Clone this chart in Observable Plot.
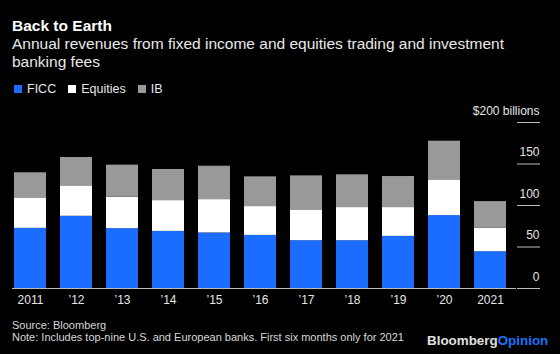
<!DOCTYPE html>
<html>
<head>
<meta charset="utf-8">
<script src="https://cdn.jsdelivr.net/npm/d3@7"></script>
<script src="https://cdn.jsdelivr.net/npm/@observablehq/plot@0.6"></script>
<style>
  html, body { margin: 0; padding: 0; background: #000; }
  body { width: 560px; height: 354px; position: relative; overflow: hidden;
         font-family: "Liberation Sans", Arial, Helvetica, sans-serif; color: #fff; }
  .abs { position: absolute; white-space: nowrap; }
  #title { left: 12px; top: 17px; font-size: 15.5px; line-height: 18px; font-weight: bold; color: #fff; }
  #subtitle { left: 12px; top: 35px; width: 520px; white-space: normal; font-size: 15.5px; line-height: 18px; color: #e8e8e8; }
  #legend { left: 14px; top: 82px; font-size: 12.5px; line-height: 14px; color: #e8e8e8; display: flex; }
  #legend .item { display: flex; align-items: baseline; margin-right: 12px; }
  #legend .sw { display: inline-block; width: 8px; height: 8px; margin-right: 5px; }
  #chart { position: absolute; left: 0; top: 100px; }
  #source { left: 12px; top: 318.5px; font-size: 11px; line-height: 12px; color: #d8d8d8; }
  #note { left: 12px; top: 330.5px; font-size: 11px; line-height: 12px; color: #d8d8d8; }
  #logo { left: 427px; top: 333px; font-size: 13.4px; line-height: 15px; font-weight: bold; color: #e0e0e0; }
  #logo span { color: #1a72ff; }
</style>
</head>
<body>
<div id="title" class="abs">Back to Earth</div>
<div id="subtitle" class="abs">Annual revenues from fixed income and equities trading and investment banking fees</div>
<div id="legend" class="abs"></div>
<div id="chart"></div>
<div id="source" class="abs">Source: Bloomberg</div>
<div id="note" class="abs">Note: Includes top-nine U.S. and European banks. First six months only for 2021</div>
<div id="logo" class="abs">Bloomberg<span>Opinion</span></div>
<script>
// ---- data ----
const years = [2011, 2012, 2013, 2014, 2015, 2016, 2017, 2018, 2019, 2020, 2021];
const yearLabels = ["2011", "\u201912", "\u201913", "\u201914", "\u201915", "\u201916", "\u201917", "\u201918", "\u201919", "\u201920", "2021"];
const series = ["FICC", "Equities", "IB"];
const seriesColors = ["#1a6dff", "#ffffff", "#999999"];
const ficc     = [72.5, 87.0, 72.1, 68.8, 66.9, 64.0, 57.6, 57.6, 62.8, 87.8, 44.3];
const equities = [36.7, 36.7, 37.8, 37.1, 40.2, 34.7, 37.1, 39.9, 34.7, 43.1, 28.2];
const ib       = [30.2, 34.1, 38.7, 37.5, 40.2, 35.8, 41.0, 39.5, 37.4, 46.6, 32.2];
const yTicks = [0, 50, 100, 150, 200];
const yTickLabels = ["0", "50", "100", "150", "$200 billions"];

// ---- table ----
const valuesBySeries = [ficc, equities, ib];
const rows = [];
years.forEach((yr, i) => {
  series.forEach((s, j) => rows.push({year: yr, series: s, value: valuesBySeries[j][i]}));
});

// ---- legend ----
const legend = document.getElementById("legend");
series.forEach((s, j) => {
  const item = document.createElement("span");
  item.className = "item";
  const sw = document.createElement("span");
  sw.className = "sw";
  sw.style.background = seriesColors[j];
  item.appendChild(sw);
  item.appendChild(document.createTextNode(s));
  legend.appendChild(item);
});

// ---- chart ----
const chart = Plot.plot({
  width: 560,
  height: 215,
  marginLeft: 5,
  marginRight: 44,
  marginTop: 22,
  marginBottom: 27,
  style: {background: "transparent", color: "#e6e6e6", fontSize: "12px",
          fontFamily: "'Liberation Sans', Arial, Helvetica, sans-serif"},
  x: {domain: years, paddingInner: 0.3, paddingOuter: 0.15, axis: null, label: null},
  y: {domain: [0, 200], axis: null, label: null},
  color: {domain: series, range: seriesColors},
  marks: [
    Plot.barY(rows, {x: "year", y: "value", fill: "series"}),
    Plot.ruleY([0], {stroke: "#bbbbbb", insetLeft: 7}),
    Plot.axisX({tickSize: 0, tickPadding: 7, fill: "#e6e6e6", label: null,
                tickFormat: d => yearLabels[years.indexOf(d)]}),
    Plot.axisY(yTicks, {anchor: "right", tickSize: 23, stroke: "#bbbbbb", label: null, tickFormat: () => ""}),
    Plot.axisY(yTicks, {anchor: "right", tickSize: 0, tickPadding: 23, textAnchor: "end", dy: -11.5,
                        fill: "#e6e6e6", label: null, tickFormat: d => yTickLabels[yTicks.indexOf(d)]})
  ]
});
document.getElementById("chart").appendChild(chart);
</script>
</body>
</html>
